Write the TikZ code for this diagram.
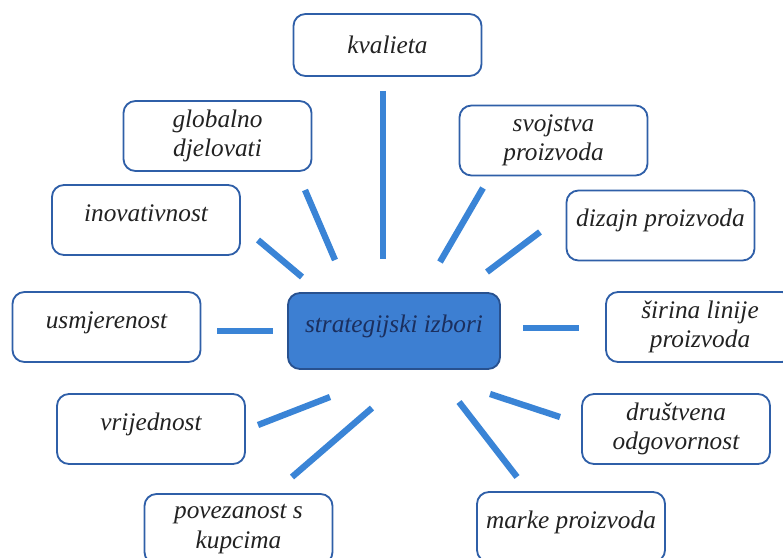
\documentclass[tikz,border=0pt]{standalone}
\usepackage{fontspec}
\setmainfont{Liberation Serif}
\usetikzlibrary{calc}
\definecolor{boxblue}{HTML}{2F5FA8}
\definecolor{spokeblue}{HTML}{3A84D6}
\definecolor{hubfill}{HTML}{3D7FD2}
\definecolor{hubtext}{HTML}{1B2F5E}
\definecolor{txtgray}{HTML}{222222}

\begin{document}
\begin{tikzpicture}[x=0.025cm, y=-0.025cm,
    choice/.style={draw=boxblue, line width=1.3pt, fill=white, rounded corners=0.3cm, minimum width=4.7cm, minimum height=1.75cm, align=center, text=txtgray, font=\fontsize{18}{21}\selectfont\itshape},
    hub/.style={choice, fill=hubfill, draw=boxblue!85!black, text=hubtext, minimum width=5.3cm, minimum height=1.9cm},
    oneline/.style={text height=12pt, text depth=10pt},
    spoke/.style={draw=spokeblue, line width=4.5pt}]
    \useasboundingbox (0,0) rectangle (783,558);

    % Centre and the boxes round it
    \node [hub, oneline] (hub) at (394,331) {strategijski izbori};
    \node [choice, minimum height=1.55cm] (kvalieta) at (387.5,45) {kvalieta};
    \node [choice] (globalno) at (217.5,136) {globalno\\djelovati};
    \node [choice] (svojstva) at (553.5,140.5) {svojstva\\proizvoda};
    \node [choice, oneline] (inovativnost) at (146,220) {inovativnost};
    \node [choice, oneline] (dizajn) at (660.5,225.5) {dizajn proizvoda};
    \node [choice, oneline] (usmjerenost) at (106.5,327) {usmjerenost};
    \node [choice] (sirina) at (700,327) {širina linije\\proizvoda};
    \node [choice, oneline] (vrijednost) at (151,429) {vrijednost};
    \node [choice] (drustvena) at (676,429) {društvena\\odgovornost};
    \node [choice] (povezanost) at (238.5,529) {povezanost s\\kupcima};
    \node [choice, oneline] (marke) at (571,527) {marke proizvoda};

    % Spokes (free standing, they touch no box)
    \foreach \xa/\ya/\xb/\yb in {383/91/383/259, 305/190/335/260, 258/240/302/277,
        483/188/440/262, 540/232/487/272, 217/331/273/331, 523/328/579/328,
        258/425/330/397, 292/477/372/408, 490/394/560/417, 459/402/517/477}
        \draw[spoke] (\xa,\ya) -- (\xb,\yb);
\end{tikzpicture}
\end{document}
